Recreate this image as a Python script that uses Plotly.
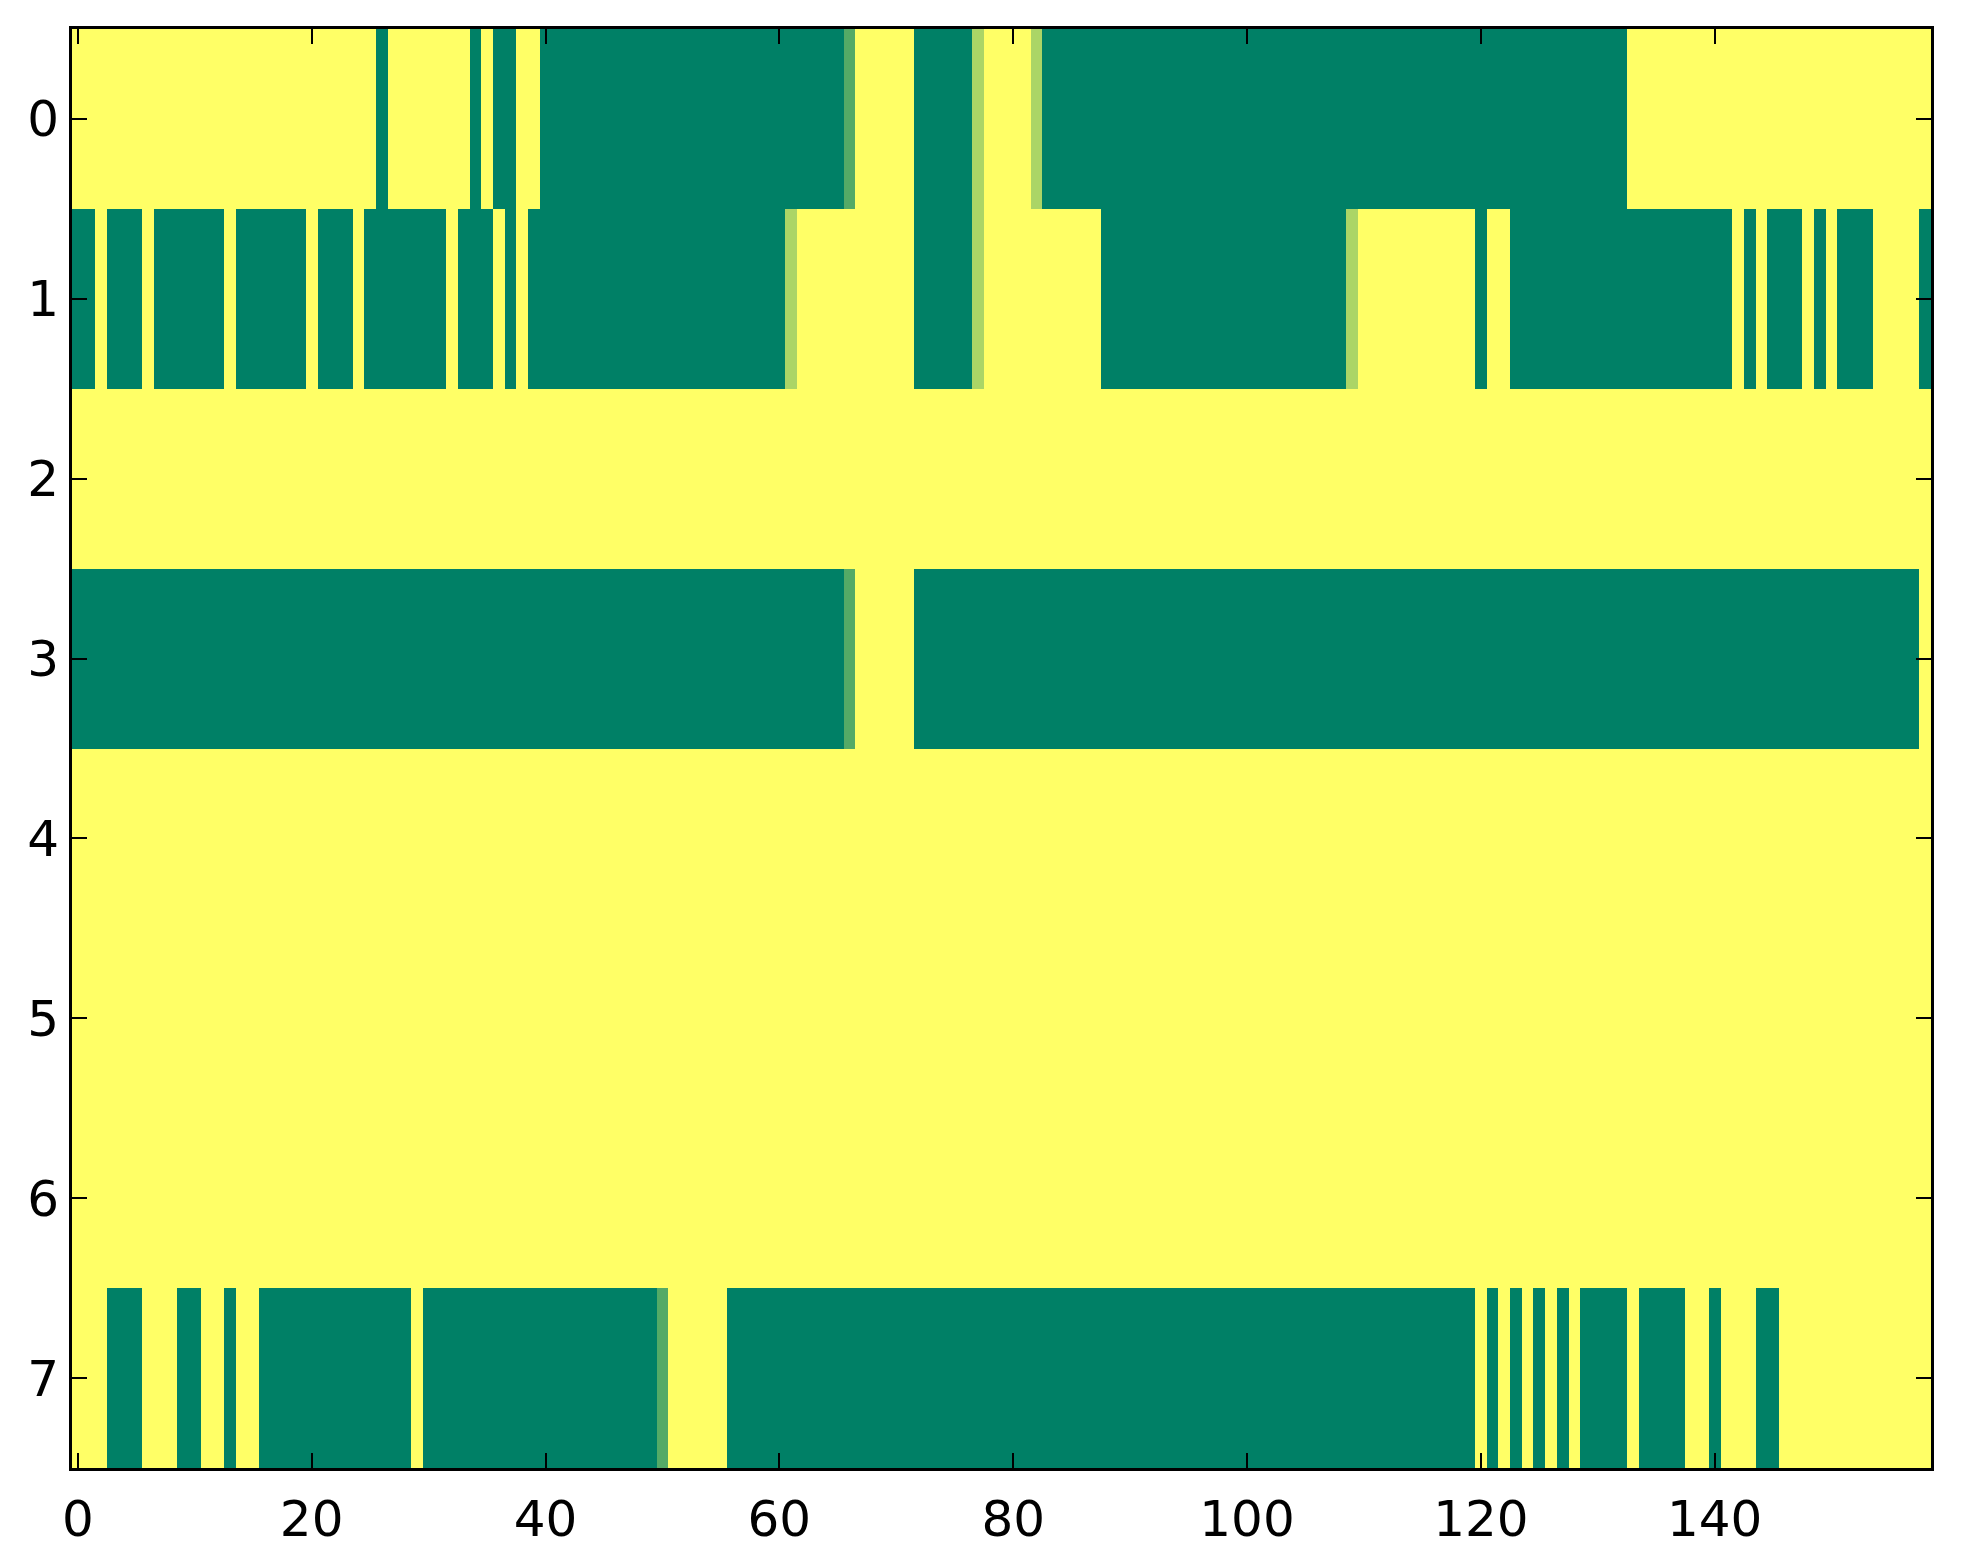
import plotly.graph_objects as go

# each row is written as runs of (value, number of columns), read left to right
n_cols = 159
row_labels = [0, 1, 2, 3, 4, 5, 6, 7]

row0_runs = [(1, 26), (0, 1), (1, 7), (0, 1), (1, 1), (0, 2), (1, 2), (0, 26),
             (0.33, 1), (1, 5), (0, 5), (0.67, 1), (1, 4), (0.67, 1), (0, 50), (1, 26)]
row1_runs = [(0, 2), (1, 1), (0, 3), (1, 1), (0, 6), (1, 1), (0, 6), (1, 1),
             (0, 3), (1, 1), (0, 7), (1, 1), (0, 3), (1, 1), (0, 1), (1, 1),
             (0, 22), (0.67, 1), (1, 10), (0, 5), (0.67, 1), (1, 10), (0, 21),
             (0.67, 1), (1, 10), (0, 1), (1, 2), (0, 19), (1, 1), (0, 1), (1, 1),
             (0, 3), (1, 1), (0, 1), (1, 1), (0, 3), (1, 4), (0, 1)]
row2_runs = [(1, 159)]
row3_runs = [(0, 66), (0.33, 1), (1, 5), (0, 86), (1, 1)]
row4_runs = [(1, 159)]
row5_runs = [(1, 159)]
row6_runs = [(1, 159)]
row7_runs = [(1, 3), (0, 3), (1, 3), (0, 2), (1, 2), (0, 1), (1, 2), (0, 13),
             (1, 1), (0, 20), (0.33, 1), (1, 5), (0, 64), (1, 1), (0, 1), (1, 1),
             (0, 1), (1, 1), (0, 1), (1, 1), (0, 1), (1, 1), (0, 4), (1, 1),
             (0, 4), (1, 2), (0, 1), (1, 3), (0, 2), (1, 13)]

x_ticks = [0, 20, 40, 60, 80, 100, 120, 140]


def expand(runs):
    out = []
    for v, n in runs:
        out += [v] * n
    return out


z = [expand(r) for r in [row0_runs, row1_runs, row2_runs, row3_runs,
                         row4_runs, row5_runs, row6_runs, row7_runs]]

# matplotlib "summer" colormap
summer = [[0, "#008066"], [1, "#ffff66"]]

fig = go.Figure(go.Heatmap(
    z=z,
    x=list(range(n_cols)),
    y=row_labels,
    colorscale=summer,
    zmin=0, zmax=1,
    showscale=False,
    hoverinfo="skip",
))

axis_style = dict(
    showline=True, linecolor="black", linewidth=3, mirror="ticks",
    ticks="inside", ticklen=15, tickwidth=2, tickcolor="black",
    showgrid=False, zeroline=False, automargin=False,
    tickfont=dict(family="DejaVu Sans", size=50, color="black"),
)

fig.update_xaxes(range=[-0.5, n_cols - 0.5], tickvals=x_ticks,
                 ticklabelstandoff=5, **axis_style)
fig.update_yaxes(range=[7.5, -0.5], tickvals=row_labels,
                 ticklabelstandoff=0, **axis_style)

# page body adds 8px around the figure
fig.update_layout(
    width=1947, height=1548,
    margin=dict(l=64, r=24, t=21, b=88),
    paper_bgcolor="white", plot_bgcolor="white",
)

fig.write_html("out.html")
